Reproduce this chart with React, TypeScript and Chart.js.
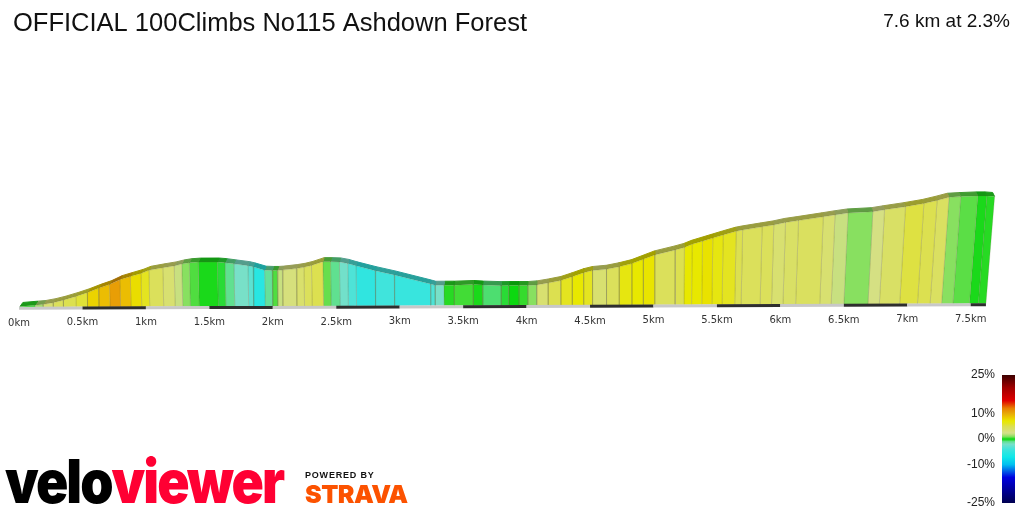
import { useEffect, useRef } from 'react';
import { Chart, registerables } from 'chart.js';

Chart.register(...registerables);

// distance (km) at each column edge of the profile
const edgeKm = [
  0.008, 0.126, 0.19, 0.27, 0.35, 0.45, 0.54, 0.63, 0.717, 0.8, 0.883, 0.967, 1.03, 1.14, 1.23, 1.29, 1.35, 1.42,
  1.57, 1.63, 1.7, 1.81, 1.85, 1.94, 2.0, 2.04, 2.08, 2.19, 2.25, 2.31, 2.4, 2.46, 2.53, 2.595, 2.66, 2.81, 2.96,
  3.245, 3.28, 3.35, 3.43, 3.58, 3.655, 3.8, 3.86, 3.94, 4.01, 4.08, 4.17, 4.27, 4.36, 4.45, 4.52, 4.63, 4.73, 4.83,
  4.92, 5.01, 5.17, 5.24, 5.3, 5.38, 5.46, 5.54, 5.64, 5.69, 5.84, 5.93, 6.02, 6.12, 6.31, 6.4, 6.5, 6.69, 6.78,
  6.94, 7.08, 7.18, 7.27, 7.36, 7.49, 7.56, 7.62,
];

// metres climbed at each edge
const edgeElevation = [
  1, 3, 4, 7, 11, 17, 23, 30, 36, 44, 49, 54, 59, 63, 66, 69, 71, 72, 72, 71, 69, 66, 64, 58.5, 58, 58, 58.5, 61, 63,
  66, 72, 72, 71.5, 69, 65, 57, 50, 35, 33, 33, 33, 34, 33, 32, 32, 32, 32, 33, 36, 40, 46, 52.5, 56, 58, 62, 67, 74,
  81, 89, 93, 98, 103, 108, 113, 119, 121, 126, 129, 133, 136, 142, 145, 148, 150, 153, 158, 163, 168, 173, 174, 175,
  175, 174,
];

// gradient (%) of each column, one less than the edges
const columnGrade = [
  0.2, 1.5, 3.5, 4.5, 5, 5.5, 8, 9, 10.5, 9, 7.5, 6, 4.5, 3.5, 2, 1, 0.5, 0.1, -0.4, -1, -2, -3, -5.5, -1.2, 0.5, 2, 3,
  3.7, 4.5, 5, 0.7, -1, -2.2, -3.5, -5, -4, -4.5, -3.5, -2, 0.2, 0.4, 0.1, -0.8, -0.4, 0, 0.3, 1, 3.5, 5, 6, 7, 6, 3.5,
  4.5, 6.5, 7, 7.2, 4.5, 5, 7, 7, 7.3, 6.5, 6, 5, 4.5, 4.5, 3.5, 4, 4.3, 3.5, 2, 1, 2.7, 4, 5.3, 5, 4.2, 1, 0.6, 0.1, 0.2,
];

const tickKm = [0, 0.5, 1, 1.5, 2, 2.5, 3, 3.5, 4, 4.5, 5, 5.5, 6, 6.5, 7, 7.5];
const tickLabels = [
  '0km', '0.5km', '1km', '1.5km', '2km', '2.5km', '3km', '3.5km', '4km', '4.5km', '5km', '5.5km', '6km', '6.5km',
  '7km', '7.5km',
];
const stripKm = [...tickKm, 7.62];

// colour key
const stopGrade = [25, 20, 15, 12, 10, 8.5, 7, 6, 5, 3.5, 2.5, 2, 1, 0.5, 0, -0.5, -1, -2, -4, -7, -10, -15, -25];
const stopColor = [
  [60, 0, 0], [160, 0, 0], [224, 0, 0], [232, 128, 0], [232, 168, 8], [236, 200, 0], [232, 232, 0], [228, 228, 32],
  [220, 224, 80], [216, 224, 112], [212, 224, 136], [200, 224, 128], [136, 224, 96], [80, 221, 64], [12, 216, 16],
  [48, 220, 64], [96, 224, 144], [120, 224, 200], [64, 228, 220], [16, 232, 232], [0, 192, 240], [0, 0, 224],
  [0, 0, 80],
];
const keyTicks = [25, 10, 0, -10, -25];
const keyRange = [-25, 25];

const TITLE = 'OFFICIAL 100Climbs No115 Ashdown Forest';
const SUMMARY = '7.6 km at 2.3%';

const BAND_METRES = 6.5; // thickness of the darker top face
const BAND_SHIFT = 0.005; // km per km, the back edge of the top face converges on the middle
const BASE_TILT = 0.75; // metres per km, the base rises slightly to the right

function gradeRgb(grade: number) {
  for (let i = 1; i < stopGrade.length; i++) {
    if (grade >= stopGrade[i]) {
      const t = (grade - stopGrade[i]) / (stopGrade[i - 1] - stopGrade[i]);
      return stopColor[i].map((c, k) => Math.round(c + (stopColor[i - 1][k] - c) * t));
    }
  }
  return stopColor[stopColor.length - 1];
}

const rgb = (c: number[], f = 1) => `rgb(${c.map(v => Math.round(v * f)).join(',')})`;
const baseAt = (km: number) => km * BASE_TILT;

// the columns lean outwards towards the far end of the climb
function leanAt(km: number, height: number) {
  const k = km > 5 ? 1.5e-4 : 0.3e-4;
  return k * (km - 5) * height;
}

const topPoint = (i: number) => ({
  x: edgeKm[i] + leanAt(edgeKm[i], edgeElevation[i]),
  y: baseAt(edgeKm[i]) + edgeElevation[i],
});

const backPoint = (i: number) => {
  const p = topPoint(i);
  return { x: p.x + (4.5 - edgeKm[i]) * BAND_SHIFT, y: p.y + BAND_METRES };
};

function polygonDataset(points: { x: number; y: number }[], fillColor: string, lineColor: string) {
  return {
    data: points,
    showLine: true,
    fill: 'shape',
    backgroundColor: fillColor,
    borderColor: lineColor,
    borderWidth: 1,
    pointRadius: 0,
    tension: 0,
    clip: false,
  };
}

const columnDatasets = columnGrade.map((grade, i) => {
  const c = gradeRgb(grade);
  return polygonDataset(
    [{ x: edgeKm[i], y: baseAt(edgeKm[i]) }, topPoint(i), topPoint(i + 1), { x: edgeKm[i + 1], y: baseAt(edgeKm[i + 1]) }],
    rgb(c),
    'rgba(100,100,60,0.2)',
  );
});

const bandDatasets = columnGrade.map((grade, i) => {
  const c = rgb(gradeRgb(grade), 0.7);
  return polygonDataset([topPoint(i), backPoint(i), backPoint(i + 1), topPoint(i + 1)], c, c);
});

const stripDataset = {
  data: stripKm.map(km => ({ x: km, y: baseAt(km) - 2 })),
  showLine: true,
  borderWidth: 3,
  pointRadius: 0,
  borderColor: '#c8c8c8',
  segment: { borderColor: (ctx: any) => (ctx.p0DataIndex % 2 ? '#2e2e2e' : '#c8c8c8') },
};

const textPlugin = {
  id: 'profileText',
  afterDraw(chart: any) {
    const { ctx, scales } = chart;
    ctx.save();
    ctx.textBaseline = 'middle';

    ctx.fillStyle = '#333';
    ctx.textAlign = 'center';
    ctx.font = '10px "DejaVu Sans"';
    tickKm.forEach((km, i) => {
      ctx.fillText(tickLabels[i], scales.x.getPixelForValue(km), scales.y.getPixelForValue(baseAt(km)) + 16);
    });

    ctx.fillStyle = '#111';
    ctx.textAlign = 'left';
    ctx.font = '25.5px "Liberation Sans"';
    ctx.fillText(TITLE, 13, 24);
    ctx.textAlign = 'right';
    ctx.font = '19px "Liberation Sans"';
    ctx.fillText(SUMMARY, 1010, 22);

    // logos
    ctx.textAlign = 'left';
    ctx.textBaseline = 'alphabetic';
    ctx.save();
    ctx.translate(5, 503);
    ctx.scale(0.89, 1);
    ctx.font = '900 60px "Inter"';
    ctx.letterSpacing = '-2.2px';
    ctx.fillStyle = '#000';
    ctx.fillText('velo', 0, 0);
    const veloWidth = ctx.measureText('velo').width;
    ctx.fillStyle = '#ff0033';
    ctx.fillText('viewer', veloWidth, 0);
    ctx.restore();

    ctx.letterSpacing = '0.8px';
    ctx.font = 'bold 9px "Liberation Sans"';
    ctx.fillStyle = '#111';
    ctx.fillText('POWERED BY', 305, 478);
    ctx.letterSpacing = '-0.5px';
    ctx.font = '900 25px "Inter"';
    ctx.fillStyle = '#fc5200';
    ctx.fillText('STRAVA', 305, 503);
    ctx.restore();
  },
};

function ProfileChart() {
  const canvasRef = useRef<HTMLCanvasElement>(null);

  useEffect(() => {
    if (!canvasRef.current) return;
    const chart = new Chart(canvasRef.current, {
      type: 'scatter',
      data: { datasets: [stripDataset, ...columnDatasets, ...bandDatasets] as any },
      options: {
        animation: false,
        responsive: false,
        layout: { padding: 0 },
        scales: {
          x: { type: 'linear', display: false, min: -0.15, max: 7.92 },
          y: { type: 'linear', display: false, min: -333, max: 499 },
        },
        plugins: { legend: { display: false }, tooltip: { enabled: false } },
      },
      plugins: [textPlugin],
    });
    return () => chart.destroy();
  }, []);

  return <canvas ref={canvasRef} width={1024} height={512} style={{ position: 'absolute', left: 0, top: 0 }} />;
}

function GradientKey() {
  const canvasRef = useRef<HTMLCanvasElement>(null);

  useEffect(() => {
    if (!canvasRef.current) return;
    const chart = new Chart(canvasRef.current, {
      type: 'bar',
      data: {
        labels: ['grade'],
        datasets: [
          {
            data: [keyRange as any],
            borderWidth: 0,
            barPercentage: 1,
            categoryPercentage: 1,
            backgroundColor: (c: any) => {
              const { ctx, scales, chartArea } = c.chart;
              if (!chartArea || !scales.y) return '#000';
              const top = scales.y.getPixelForValue(25);
              const bottom = scales.y.getPixelForValue(-25);
              if (!Number.isFinite(top) || !Number.isFinite(bottom)) return '#000';
              const gradient = ctx.createLinearGradient(0, top, 0, bottom);
              stopGrade.forEach((g, i) => gradient.addColorStop((25 - g) / 50, rgb(stopColor[i])));
              return gradient;
            },
          },
        ],
      },
      options: {
        animation: false,
        responsive: false,
        layout: { padding: { top: 15, bottom: 9, right: 9, left: 0 } },
        scales: {
          x: { display: false },
          y: {
            min: -25,
            max: 25,
            afterBuildTicks: (scale: any) => {
              scale.ticks = keyTicks.map(value => ({ value }));
            },
            afterFit: (scale: any) => {
              scale.width = 52;
              scale.paddingTop = 0;
              scale.paddingBottom = 0;
            },
            grid: { display: false, drawTicks: false },
            border: { display: false },
            ticks: {
              autoSkip: false,
              padding: 7,
              color: '#222',
              font: { family: '"Liberation Sans"', size: 12 },
              callback: (value: any) => `${value}%`,
            },
          },
        },
        plugins: { legend: { display: false }, tooltip: { enabled: false } },
      },
    });
    return () => chart.destroy();
  }, []);

  return <canvas ref={canvasRef} width={74} height={152} style={{ position: 'absolute', left: 950, top: 360 }} />;
}

export default function App() {
  return (
    <div style={{ position: 'absolute', left: 0, top: 0, width: 1024, height: 512, background: '#fff' }}>
      <ProfileChart />
      <GradientKey />
    </div>
  );
}
